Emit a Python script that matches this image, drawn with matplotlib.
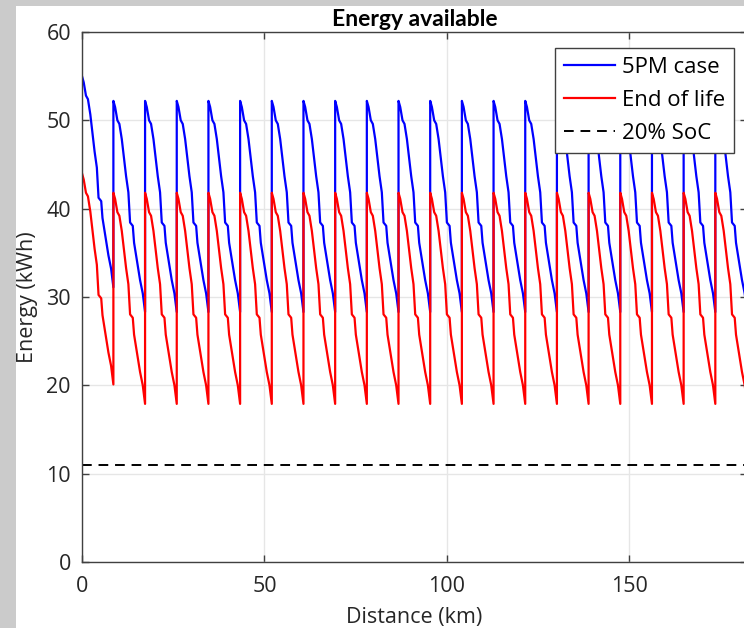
import matplotlib.pyplot as plt
import numpy as np
from matplotlib.patches import Rectangle

# one drive cycle: distance fraction vs fraction of energy used
cycle_dist = [0, 0.054, 0.126, 0.189, 0.265, 0.338, 0.401, 0.473, 0.527,
              0.612, 0.653, 0.738, 0.842, 0.927, 1.0]
cycle_used = [0, 0.029, 0.092, 0.109, 0.181, 0.277, 0.357, 0.433, 0.576,
              0.592, 0.672, 0.752, 0.849, 0.912, 1.0]

first_leg_km = 8.6
leg_km = 8.68
n_legs = 21
energy_used = 23.9          # kWh per leg

start_5pm = 55.0            # full pack
start_eol = 44.0
recharge_5pm = 52.2         # topped up at each stop
recharge_eol = 41.8
soc20 = 11.0

series_labels = ['5PM case', 'End of life', '20% SoC']
xticks = [0, 50, 100, 150]
yticks = [0, 10, 20, 30, 40, 50, 60]


def build(start, recharge):
    xs, ys = [], []
    x0 = 0.0
    for k in range(n_legs):
        length = first_leg_km if k == 0 else leg_km
        e0 = start if k == 0 else recharge
        for d, u in zip(cycle_dist, cycle_used):
            xs.append(x0 + d * length)
            ys.append(e0 - u * energy_used)
        x0 += length
    return np.array(xs), np.array(ys)


x_5pm, e_5pm = build(start_5pm, recharge_5pm)
x_eol, e_eol = build(start_eol, recharge_eol)

plt.rcParams['font.family'] = ['Open Sans', 'DejaVu Sans']

fig = plt.figure(figsize=(7.44, 6.28), dpi=100)
fig.patch.set_facecolor('#cbcbcb')
fig.patches.append(Rectangle((16 / 744, 0), 728 / 744, 622 / 628,
                             transform=fig.transFigure, facecolor='white',
                             edgecolor='none', zorder=-10))

ax = fig.add_axes([82 / 744, 66 / 628, 665 / 744, 530 / 628])

ax.plot(x_5pm, e_5pm, color='#0000ff', lw=1.6, label=series_labels[0])
ax.plot(x_eol, e_eol, color='#ff0000', lw=1.6, label=series_labels[1])
ax.axhline(soc20, color='black', lw=1.4, ls=(0, (5, 3.5)), label=series_labels[2])

ax.set_xlim(0, x_5pm[-1])
ax.set_ylim(0, 60)
ax.set_xticks(xticks)
ax.set_yticks(yticks)
ax.grid(color='#e6e6e6', lw=1)
ax.set_axisbelow(True)
ax.tick_params(direction='in', top=True, right=True, length=5, width=1,
               color='#404040', labelcolor='#262626', labelsize=15.5, pad=8)
ax.tick_params(axis='x', pad=10)
for s in ax.spines.values():
    s.set_color('#404040')
    s.set_linewidth(1)

ax.set_title('Energy available', fontsize=16.5, fontweight='bold',
             family=['Lato', 'DejaVu Sans'], pad=4)
ax.set_xlabel('Distance (km)', fontsize=15.5, color='#262626', labelpad=7)
ax.set_ylabel('Energy (kWh)', fontsize=15.5, color='#262626', labelpad=6)

leg = ax.legend(loc='upper right', bbox_to_anchor=(0.98, 0.97), borderaxespad=0,
                fontsize=16, fancybox=False, framealpha=1, edgecolor='#404040',
                handlelength=2.3, handletextpad=0.3, labelspacing=0.55,
                borderpad=0.4)
leg.get_frame().set_linewidth(1)

fig.savefig('out.png', dpi=100)
